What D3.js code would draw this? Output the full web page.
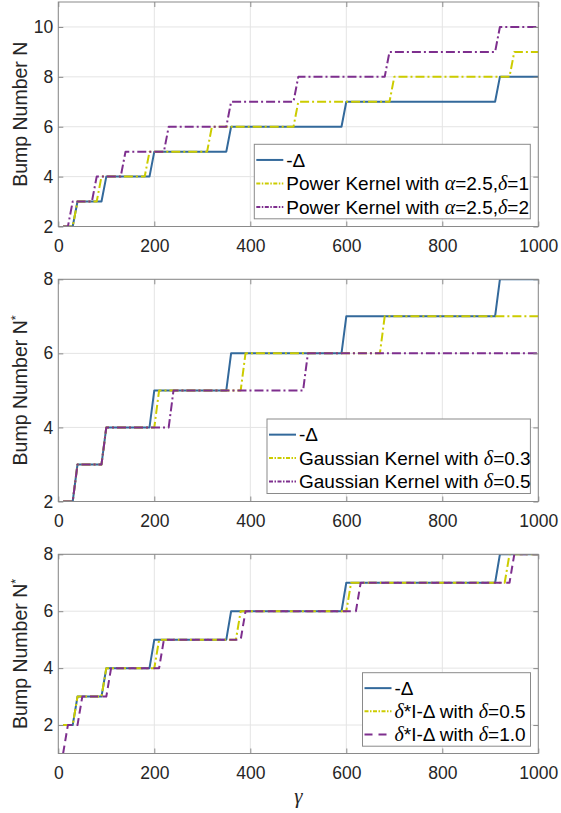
<!DOCTYPE html>
<html>
<head>
<meta charset="utf-8">
<script src="https://cdn.jsdelivr.net/npm/d3@7"></script>
<style>
  html, body { margin: 0; padding: 0; background: #fff; }
  svg { display: block; }
</style>
</head>
<body>
<div id="chart"></div>
<script>
// ---------------- data (polyline vertices: [gamma, N]) ----------------
const xTicks = [0, 200, 400, 600, 800, 1000];
const xTickLabels = ["0", "200", "400", "600", "800", "1000"];

const deltaSeries = [[10,2],[30,2],[40,3],[90,3],[100,4],[190,4],[200,5],[350,5],[360,6],[590,6],[600,7],[910,7],[920,8],[1000,8]];

const powerDelta1 = [[10,2],[30,2],[40,3],[80,3],[90,4],[180,4],[190,5],[310,5],[320,6],[490,6],[500,7],[690,7],[700,8],[940,8],[950,9],[1000,9]];
const powerDelta2 = [[10,2],[20,2],[30,3],[70,3],[80,4],[130,4],[140,5],[220,5],[230,6],[350,6],[360,7],[490,7],[500,8],[680,8],[690,9],[910,9],[920,10],[1000,10]];

const gauss03 = [[10,2],[30,2],[40,3],[90,3],[100,4],[200,4],[210,5],[380,5],[390,6],[670,6],[680,7],[1000,7]];
const gauss05 = [[10,2],[30,2],[40,3],[90,3],[100,4],[230,4],[240,5],[510,5],[520,6],[1000,6]];

const idDelta05 = [[10,2],[30,2],[40,3],[90,3],[100,4],[200,4],[210,5],[370,5],[380,6],[600,6],[610,7],[930,7],[940,8],[1000,8]];
const idDelta10 = [[10,1],[20,2],[40,2],[50,3],[100,3],[110,4],[210,4],[220,5],[380,5],[390,6],[620,6],[630,7],[940,7],[950,8],[1000,8]];

const yTicks1 = [2, 4, 6, 8, 10];
const yTicks2 = [2, 4, 6, 8];
const yTicks3 = [2, 4, 6, 8];

// legend texts as runs: [text, kind] kind: "s" sans, "g" greek italic serif
const legend1 = [
  [["-Δ","s"]],
  [["Power Kernel with ","s"],["α","g"],["=2.5,","s"],["δ","g"],["=1","s"]],
  [["Power Kernel with ","s"],["α","g"],["=2.5,","s"],["δ","g"],["=2","s"]]
];
const legend2 = [
  [["-Δ","s"]],
  [["Gaussian Kernel with ","s"],["δ","g"],["=0.3","s"]],
  [["Gaussian Kernel with ","s"],["δ","g"],["=0.5","s"]]
];
const legend3 = [
  [["-Δ","s"]],
  [["δ","g"],["*I-Δ with ","s"],["δ","g"],["=0.5","s"]],
  [["δ","g"],["*I-Δ with ","s"],["δ","g"],["=1.0","s"]]
];

// ---------------- styles ----------------
const BLUE = "#33699b", YELLOW = "#cccc00", PURPLE = "#7e2f8e";
const DASHDOT = "9,3,2,3", DASHED = "8,4.5";
const SANS = "'Liberation Sans', Arial, sans-serif";
const SERIF = "'Liberation Serif', 'Times New Roman', serif";
const AXIS_COLOR = "#8a8a8a", GRID_COLOR = "#e4e4e4", TEXT_COLOR = "#262626";

const W = 561, H = 813;
const X0 = 58.3, X1 = 538.3;

const panels = [
  { top: 2, bottom: 226.5, ylim: [2, 11], yticks: yTicks1, star: false,
    series: [{d: deltaSeries, c: BLUE, dash: null}, {d: powerDelta1, c: YELLOW, dash: DASHDOT}, {d: powerDelta2, c: PURPLE, dash: DASHDOT}],
    legend: legend1, lg: {x: 254.3, y: 144.3, w: 276, h: 74.5} },
  { top: 279.3, bottom: 501.5, ylim: [2, 8], yticks: yTicks2, star: true,
    series: [{d: deltaSeries, c: BLUE, dash: null}, {d: gauss03, c: YELLOW, dash: DASHDOT}, {d: gauss05, c: PURPLE, dash: DASHDOT}],
    legend: legend2, lg: {x: 267, y: 419, w: 263.4, h: 74.5} },
  { top: 554.3, bottom: 753.5, ylim: [1, 8], yticks: yTicks3, star: true,
    series: [{d: deltaSeries, c: BLUE, dash: null}, {d: idDelta05, c: YELLOW, dash: DASHDOT}, {d: idDelta10, c: PURPLE, dash: DASHED}],
    legend: legend3, lg: {x: 362.5, y: 672.7, w: 168, h: 73.5} }
];

const svg = d3.select("#chart").append("svg").attr("width", W).attr("height", H);

const x = d3.scaleLinear().domain([0, 1000]).range([X0, X1]);

panels.forEach((p, i) => {
  const y = d3.scaleLinear().domain(p.ylim).range([p.bottom, p.top]);
  const g = svg.append("g");

  // grid
  g.append("g").selectAll("line").data(xTicks).join("line")
    .attr("x1", d => x(d)).attr("x2", d => x(d)).attr("y1", p.top).attr("y2", p.bottom)
    .attr("stroke", GRID_COLOR).attr("stroke-width", 1);
  g.append("g").selectAll("line").data(p.yticks).join("line")
    .attr("x1", X0).attr("x2", X1).attr("y1", d => y(d)).attr("y2", d => y(d))
    .attr("stroke", GRID_COLOR).attr("stroke-width", 1);

  // clip
  const cid = "clip" + i;
  svg.append("clipPath").attr("id", cid).append("rect")
    .attr("x", X0).attr("y", p.top).attr("width", X1 - X0).attr("height", p.bottom - p.top);

  const line = d3.line().x(d => x(d[0])).y(d => y(d[1]));
  const lines = g.append("g").attr("clip-path", `url(#${cid})`);
  p.series.forEach(s => {
    lines.append("path").attr("d", line(s.d)).attr("fill", "none")
      .attr("stroke", s.c).attr("stroke-width", 2)
      .attr("stroke-dasharray", s.dash).attr("stroke-linejoin", "round");
  });

  // axes
  const xb = d3.axisBottom(x).tickValues(xTicks).tickFormat((d, k) => xTickLabels[k])
    .tickSizeInner(-5).tickSizeOuter(0).tickPadding(13.4);
  const yl = d3.axisLeft(y).tickValues(p.yticks).tickFormat(d3.format("d"))
    .tickSizeInner(-5).tickSizeOuter(0).tickPadding(5);
  const xt = d3.axisTop(x).tickValues(xTicks).tickFormat("").tickSizeInner(-5).tickSizeOuter(0);
  const yr = d3.axisRight(y).tickValues(p.yticks).tickFormat("").tickSizeInner(-5).tickSizeOuter(0);

  const styleAxis = sel => {
    sel.select(".domain").remove();
    sel.selectAll(".tick line").attr("stroke", AXIS_COLOR);
    sel.selectAll(".tick text").attr("fill", TEXT_COLOR).style("font-family", SANS).style("font-size", "17.5px");
  };
  g.append("g").attr("transform", `translate(0,${p.bottom})`).call(xb).call(styleAxis);
  g.append("g").attr("transform", `translate(${X0},0)`).call(yl).call(styleAxis);
  g.append("g").attr("transform", `translate(0,${p.top})`).call(xt).call(styleAxis);
  g.append("g").attr("transform", `translate(${X1},0)`).call(yr).call(styleAxis);

  g.append("rect").attr("x", X0).attr("y", p.top).attr("width", X1 - X0).attr("height", p.bottom - p.top)
    .attr("fill", "none").attr("stroke", AXIS_COLOR).attr("stroke-width", 1);

  // y label
  const cy = (p.top + p.bottom) / 2;
  const yt = g.append("text").attr("transform", `translate(27,${cy}) rotate(-90)`)
    .attr("text-anchor", "middle").attr("fill", TEXT_COLOR)
    .style("font-family", SANS).style("font-size", "19.5px");
  yt.append("tspan").text("Bump Number N");
  if (p.star) yt.append("tspan").attr("dy", "-0.55em").style("font-size", "12.5px").text("*");

  // legend
  const L = p.lg;
  const lgG = g.append("g");
  lgG.append("rect").attr("x", L.x).attr("y", L.y).attr("width", L.w).attr("height", L.h)
    .attr("fill", "#fff").attr("stroke", AXIS_COLOR).attr("stroke-width", 1);
  p.legend.forEach((runs, k) => {
    const ry = L.y + L.h * 0.21 + k * (L.h * 0.315);
    const s = p.series[k];
    lgG.append("line").attr("x1", L.x + 2).attr("x2", L.x + 29).attr("y1", ry).attr("y2", ry)
      .attr("stroke", s.c).attr("stroke-width", 2).attr("stroke-dasharray", s.dash ? (s.dash === DASHED ? "8,6" : "4,1.5,1.5,1.5") : null);
    const t = lgG.append("text").attr("x", L.x + 32).attr("y", ry + 6.8).attr("fill", "#000")
      .style("font-size", "19px");
    runs.forEach(([txt, kind]) => {
      t.append("tspan").text(txt)
        .style("font-family", kind === "g" ? SERIF : SANS)
        .style("font-style", kind === "g" ? "italic" : "normal")
        .style("font-size", kind === "g" ? "20px" : "19px");
    });
  });
});

// x label gamma
svg.append("text").attr("x", (X0 + X1) / 2).attr("y", 803).attr("text-anchor", "middle")
  .attr("fill", TEXT_COLOR).style("font-family", SERIF).style("font-style", "italic").style("font-size", "21px").text("γ");
</script>
</body>
</html>
